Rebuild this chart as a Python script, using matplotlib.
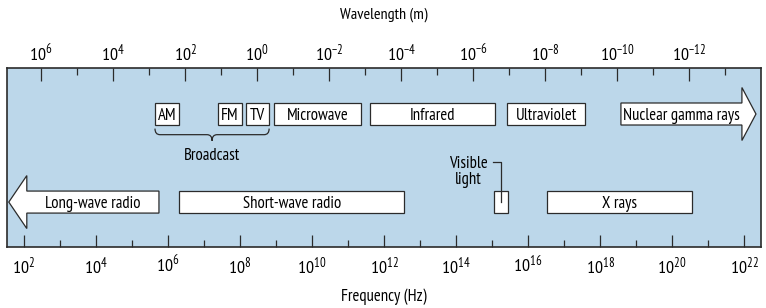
import matplotlib
matplotlib.use('Agg')
import matplotlib.pyplot as plt
from matplotlib.patches import Rectangle, Polygon, PathPatch
from matplotlib.path import Path
from matplotlib import font_manager as fm
import numpy as np

# ---------------- data ----------------
freq_exponents = [2, 4, 6, 8, 10, 12, 14, 16, 18, 20, 22]
freq_minor_exponents = [3, 5, 7, 9, 11, 13, 15, 17, 19, 21]
wavelength_exponents = [6, 4, 2, 0, -2, -4, -6, -8, -10, -12]
wavelength_minor_exponents = [7, 5, 3, 1, -1, -3, -5, -7, -9, -11, -13]
log_c = np.log10(2.998e8)

# band boxes (log10 frequency in Hz)
box_labels = ['AM', 'FM', 'TV', 'Microwave', 'Infrared', 'Ultraviolet',
              'Short-wave radio', 'X rays']
box_start = [5.64, 7.39, 8.17, 8.94, 11.61, 15.42, 6.31, 16.53]
box_end = [6.31, 8.06, 8.81, 11.36, 15.08, 17.58, 12.56, 20.56]
box_row = [1, 1, 1, 1, 1, 1, 0, 0]

visible_start, visible_end = 15.06, 15.44

arrow_labels = ['Long-wave radio', 'Nuclear gamma rays']
arrow_body_start = [2.08, 18.58]
arrow_body_end = [5.75, 21.94]
arrow_tip = [1.58, 22.33]
arrow_row = [0, 1]

broadcast_members = ['AM', 'FM', 'TV']

# ---------------- fonts ----------------
names = {f.name for f in fm.fontManager.ttflist}
FONT = 'DejaVu Sans'
for cand in ['PT Sans Narrow', 'Archivo Narrow', 'Roboto Condensed', 'Liberation Sans']:
    if cand in names:
        FONT = cand
        break
plt.rcParams['font.family'] = [FONT, 'DejaVu Sans']
plt.rcParams['mathtext.fontset'] = 'custom'
plt.rcParams['mathtext.rm'] = FONT
plt.rcParams['mathtext.it'] = FONT
plt.rcParams['mathtext.default'] = 'rm'

BG = '#bcd7ea'
EDGE = '#2b2b2b'
FS = 12
TFS = 13

fig = plt.figure(figsize=(7.66, 3.08), dpi=100)
ax = fig.add_axes([7/766, 61/308, 754/766, 179/308])
ax.set_facecolor(BG)
ax.set_xlim(1.53, 22.47)
ax.set_ylim(0, 1)
for s in ax.spines.values():
    s.set_color(EDGE)
    s.set_linewidth(1.2)

ax.set_xticks(freq_exponents)
ax.set_xticklabels([r'$10^{%d}$' % e for e in freq_exponents], fontsize=TFS)
ax.set_xticks(freq_minor_exponents, minor=True)
ax.set_yticks([])
ax.tick_params(axis='x', which='major', direction='in', length=9, width=0.9,
               color=EDGE, pad=6)
ax.tick_params(axis='x', which='minor', direction='in', length=5, width=0.9,
               color=EDGE)
ax.set_xlabel('Frequency (Hz)', fontsize=FS, va='center')
ax.xaxis.set_label_coords(0.5, -(297 - 247) / 179, transform=ax.transAxes)

top = ax.secondary_xaxis('top', functions=(lambda x: log_c - x, lambda l: log_c - l))
top.set_xticks(wavelength_exponents)
top.set_xticklabels([r'$10^{%d}$' % e for e in wavelength_exponents], fontsize=TFS)
top.set_xticks(wavelength_minor_exponents, minor=True)
top.tick_params(axis='x', which='major', direction='in', length=9, width=0.9,
                color=EDGE, pad=2.5)
top.tick_params(axis='x', which='minor', direction='in', length=5, width=0.9,
                color=EDGE)
top.spines['top'].set_visible(False)
top.set_xlabel('Wavelength (m)', fontsize=11.5, va='center')
top.xaxis.set_label_coords(0.5, 1 + (68 - 15) / 179, transform=ax.transAxes)

row_center = {0: 0.251, 1: 0.743}
half_h = 0.0615
head_h = 0.148

for lab, s, e, r in zip(box_labels, box_start, box_end, box_row):
    yc = row_center[r]
    ax.add_patch(Rectangle((s, yc - half_h), e - s, 2 * half_h, facecolor='white',
                           edgecolor=EDGE, lw=0.9, zorder=3))
    ax.text((s + e) / 2, yc, lab, ha='center', va='center_baseline', fontsize=FS, zorder=4)

# visible light
yc = row_center[0]
ax.add_patch(Rectangle((visible_start, yc - half_h), visible_end - visible_start,
                       2 * half_h, facecolor='white', edgecolor=EDGE, lw=0.9, zorder=3))
vx = (visible_start + visible_end) / 2
ax.plot([vx, vx, vx - 0.22], [yc, 0.475, 0.475], color=EDGE, lw=0.9, zorder=5)
ax.text(vx - 0.9, 0.42, 'Visible\nlight', ha='center', va='center', fontsize=FS,
        linespacing=1.05, zorder=4)

# arrows
for lab, s, e, t, r in zip(arrow_labels, arrow_body_start, arrow_body_end,
                           arrow_tip, arrow_row):
    yc = row_center[r]
    if t < s:
        base = s
        pts = [(e, yc - half_h), (e, yc + half_h), (base, yc + half_h),
               (base, yc + head_h), (t, yc), (base, yc - head_h), (base, yc - half_h)]
        tx = (base + e) / 2
    else:
        base = e
        pts = [(s, yc - half_h), (s, yc + half_h), (base, yc + half_h),
               (base, yc + head_h), (t, yc), (base, yc - head_h), (base, yc - half_h)]
        tx = (s + base) / 2
    ax.add_patch(Polygon(pts, closed=True, facecolor='white', edgecolor=EDGE,
                         lw=0.9, zorder=3))
    ax.text(tx, yc, lab, ha='center', va='center_baseline', fontsize=FS, zorder=4)

# broadcast brace
idx = [box_labels.index(m) for m in broadcast_members]
bs = min(box_start[i] for i in idx)
be = max(box_end[i] for i in idx)
bm = (bs + be) / 2
y0 = row_center[1] - half_h - 0.02
y1 = y0 - 0.034
y2 = y1 - 0.034
dx = 0.14
verts = [(bs, y0), (bs, y1), (bs + dx, y1),
         (bm - dx, y1), (bm, y1), (bm, y2),
         (bm, y1), (bm + dx, y1),
         (be - dx, y1), (be, y1), (be, y0)]
codes = [Path.MOVETO, Path.CURVE3, Path.CURVE3,
         Path.LINETO, Path.CURVE3, Path.CURVE3,
         Path.CURVE3, Path.CURVE3,
         Path.LINETO, Path.CURVE3, Path.CURVE3]
ax.add_patch(PathPatch(Path(verts, codes), facecolor='none', edgecolor=EDGE,
                       lw=0.9, zorder=4))
ax.text(bm, 0.508, 'Broadcast', ha='center', va='center', fontsize=FS)

fig.savefig('out.png', dpi=100, facecolor='white')
